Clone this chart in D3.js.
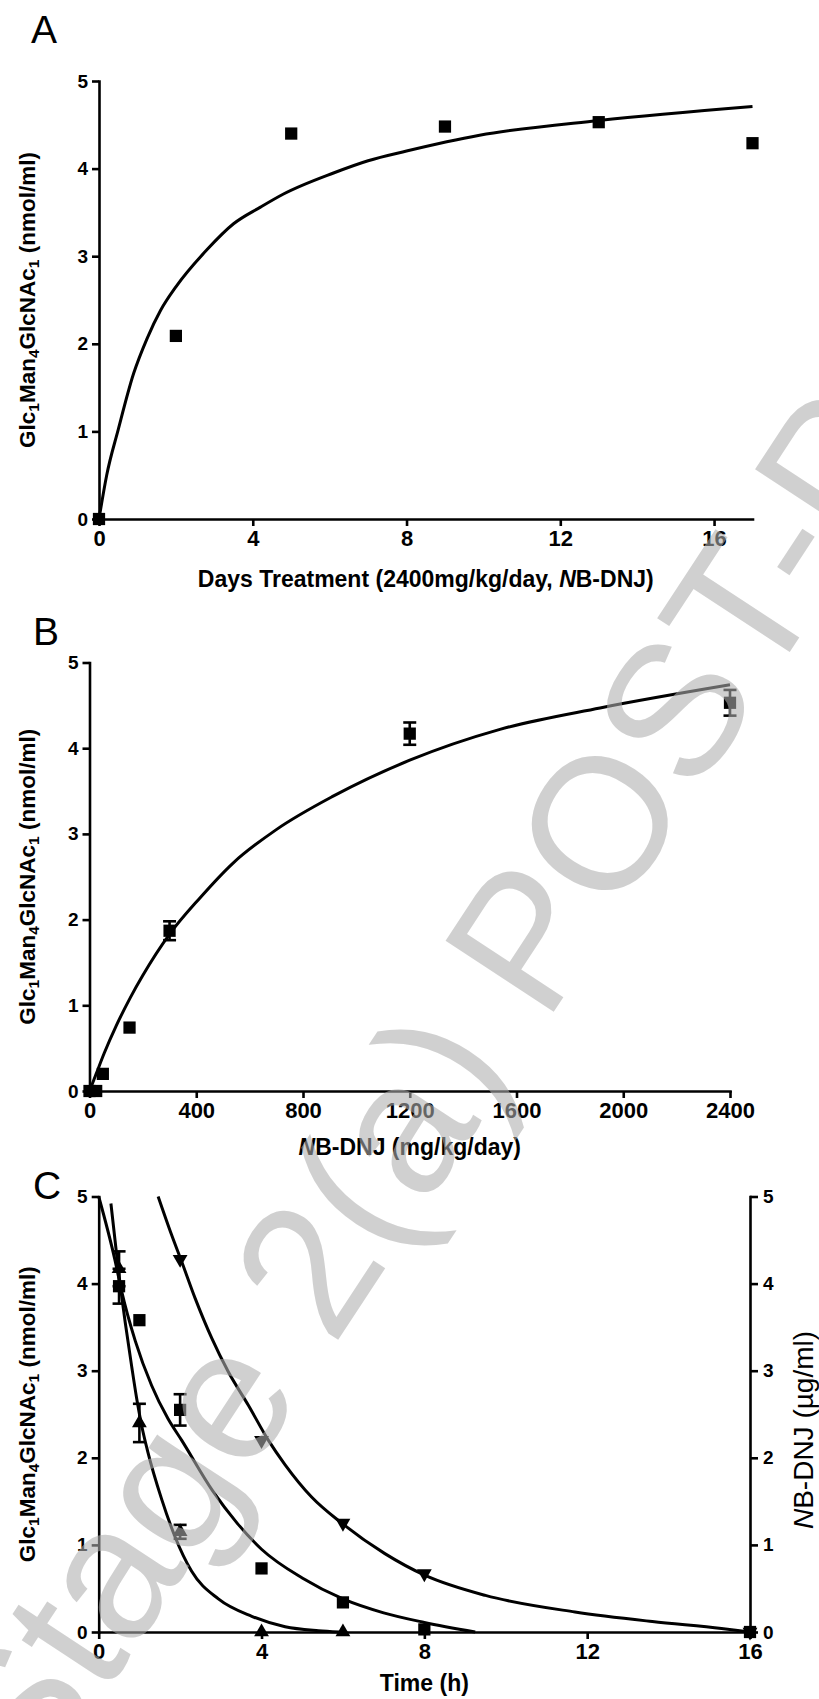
<!DOCTYPE html>
<html>
<head>
<meta charset="utf-8">
<script src="https://cdn.jsdelivr.net/npm/d3@7"></script>
<style>
  body { margin: 0; background: #fff; }
  svg { display: block; }
  text { font-family: "Liberation Sans", Arial, Helvetica, sans-serif; }
</style>
</head>
<body>
<svg id="chart" width="819" height="1699"></svg>
<script>
// ---------------- DATA ----------------
const yTicks = [0, 1, 2, 3, 4, 5];

// Panel A
const aTicks = [0, 4, 8, 12, 16];
const aDays = [0, 2, 5, 9, 13, 17];
const aValues = [0, 2.09, 4.40, 4.48, 4.53, 4.29];
const aFitX = [0, 0.2, 0.5, 0.9, 1.25, 1.6, 2, 2.8, 3.5, 4.2, 4.8, 6.1, 7, 8, 9.9, 13, 17];
const aFitY = [0, 0.5, 1.02, 1.66, 2.06, 2.38, 2.65, 3.07, 3.37, 3.56, 3.71, 3.95, 4.09, 4.2, 4.38, 4.55, 4.71];

// Panel B
const bTicks = [0, 400, 800, 1200, 1600, 2000, 2400];
const bDose = [0, 25, 50, 150, 300, 1200, 2400];
const bValues = [0, 0, 0.2, 0.74, 1.87, 4.17, 4.53];
const bErr = [0, 0, 0, 0, 0.11, 0.13, 0.15];
const bFitX = [0, 25, 55, 100, 153, 200, 300, 413, 538, 700, 913, 1200, 1538, 1913, 2400];
const bFitY = [0, 0.2, 0.44, 0.76, 1.09, 1.35, 1.83, 2.25, 2.66, 3.05, 3.44, 3.86, 4.22, 4.47, 4.74];

// Panel C
const cTicks = [0, 4, 8, 12, 16];
const cSqTime = [0.5, 1, 2, 4, 6, 8, 16];
const cSqValues = [3.97, 3.58, 2.55, 0.73, 0.34, 0.03, 0];
const cSqErr = [0.2, 0, 0.18, 0, 0, 0, 0];
const cUpTime = [0.5, 1, 2, 4, 6];
const cUpValues = [4.17, 2.4, 1.15, 0, 0];
const cUpErr = [0.2, 0.22, 0.08, 0, 0];
const cDownTime = [2, 4, 6, 8, 16];
const cDownValues = [4.28, 2.2, 1.25, 0.67, 0];

const cSqFitX = [0, 0.4, 0.56, 0.9, 1.3, 1.7, 2.04, 2.8, 3.4, 4, 5, 6, 7, 8, 9.25];
const cSqFitY = [5, 4.27, 3.92, 3.34, 2.83, 2.45, 2.2, 1.62, 1.25, 0.95, 0.62, 0.38, 0.22, 0.11, 0];
const cUpFitX = [0.3, 0.48, 0.65, 0.81, 0.93, 1.06, 1.2, 1.55, 1.87, 2.28, 2.94, 3.76, 4.58, 5.4, 5.9];
const cUpFitY = [4.92, 4.17, 3.56, 3.05, 2.69, 2.36, 2.08, 1.52, 1.1, 0.7, 0.38, 0.18, 0.06, 0.015, 0];
const cDownFitX = [1.46, 1.79, 2.04, 2.37, 2.78, 3.18, 3.68, 4.17, 4.58, 5.23, 5.97, 7.03, 8.02, 9.5, 11.7, 13.6, 15.3, 16];
const cDownFitY = [5, 4.56, 4.25, 3.83, 3.37, 2.99, 2.6, 2.2, 1.92, 1.55, 1.25, 0.9, 0.65, 0.42, 0.23, 0.12, 0.04, 0];

// ---------------- DRAWING ----------------
const svg = d3.select("#chart");
const LW = 2.6;

function makePanel(p) {
  const x = d3.scaleLinear().domain(p.xDomain).range([p.left, p.right]);
  const y = d3.scaleLinear().domain([0, 5]).range([p.bottom, p.top]);

  const gx = svg.append("g").attr("transform", `translate(0,${p.bottom})`)
    .call(d3.axisBottom(x).tickValues(p.xTicks).tickSize(7).tickPadding(4)
      .tickSizeOuter(0).tickFormat(d3.format("d")));
  const gy = svg.append("g").attr("transform", `translate(${p.left},0)`)
    .call(d3.axisLeft(y).tickValues(yTicks).tickSize(7).tickPadding(4)
      .tickSizeOuter(0).tickFormat(d3.format("d")));
  [gx, gy].forEach(g => {
    g.select(".domain").attr("stroke", "#000").attr("stroke-width", LW).attr("stroke-linecap", "square");
    g.selectAll(".tick line").attr("stroke", "#000").attr("stroke-width", LW);
    g.selectAll("text").attr("fill", "#000").attr("font-weight", "bold")
      .style("font-family", '"Liberation Sans", Arial, sans-serif');
  });
  gx.selectAll("text").attr("font-size", 22);
  gy.selectAll("text").attr("font-size", 19);

  if (p.right2) {
    const gr = svg.append("g").attr("transform", `translate(${p.right},0)`)
      .call(d3.axisRight(y).tickValues(yTicks).tickSize(8).tickPadding(5)
        .tickSizeOuter(0).tickFormat(d3.format("d")));
    gr.select(".domain").attr("stroke", "#000").attr("stroke-width", LW).attr("stroke-linecap", "square");
    gr.selectAll(".tick line").attr("stroke", "#000").attr("stroke-width", LW);
    gr.selectAll("text").attr("fill", "#000").attr("font-weight", "bold").attr("font-size", 19)
      .style("font-family", '"Liberation Sans", Arial, sans-serif');
  }

  // panel letter
  svg.append("text").attr("x", p.letterX).attr("y", p.letterY)
    .attr("font-size", 39).attr("fill", "#000").text(p.letter);

  // left y label
  const yl = svg.append("text")
    .attr("transform", `translate(35,${(p.top + p.bottom) / 2}) rotate(-90)`)
    .attr("text-anchor", "middle").attr("font-weight", "bold").attr("font-size", 22.5).attr("fill", "#000");
  const parts = [["Glc", false], ["1", true], ["Man", false], ["4", true], ["GlcNAc", false], ["1", true], [" (nmol/ml)", false]];
  let prevSub = false;
  parts.forEach(([t, sub]) => {
    const ts = yl.append("tspan").text(t);
    if (sub) { ts.attr("font-size", 15.5).attr("dy", 4); }
    else if (prevSub) { ts.attr("dy", -4); }
    prevSub = sub;
  });

  return { x, y };
}

function drawFit(s, fx, fy) {
  svg.append("path").datum(d3.zip(fx, fy))
    .attr("d", d3.line().x(d => s.x(d[0])).y(d => s.y(d[1])).curve(d3.curveMonotoneX))
    .attr("fill", "none").attr("stroke", "#000").attr("stroke-width", 3).attr("stroke-linejoin", "round");
}

function drawErr(s, xs, vs, es) {
  xs.forEach((xv, i) => {
    const e = es[i];
    if (!e) return;
    const cx = s.x(xv), y1 = s.y(vs[i] + e), y2 = s.y(vs[i] - e);
    const g = svg.append("g").attr("stroke", "#000").attr("stroke-width", LW);
    g.append("line").attr("x1", cx).attr("x2", cx).attr("y1", y1).attr("y2", y2);
    g.append("line").attr("x1", cx - 6.5).attr("x2", cx + 6.5).attr("y1", y1).attr("y2", y1);
    g.append("line").attr("x1", cx - 6.5).attr("x2", cx + 6.5).attr("y1", y2).attr("y2", y2);
  });
}

function drawMarkers(s, xs, vs, type) {
  const sym = type === "square" ? d3.symbol(d3.symbolSquare, 150) : d3.symbol(d3.symbolTriangle, 95);
  xs.forEach((xv, i) => {
    const rot = type === "down" ? 180 : 0;
    svg.append("path").attr("d", sym())
      .attr("transform", `translate(${s.x(xv)},${s.y(vs[i])}) rotate(${rot})`)
      .attr("fill", "#000");
  });
}

// Panel A
const A = makePanel({ left: 99, right: 752.5, top: 81, bottom: 519, xDomain: [0, 17], xTicks: aTicks,
  letter: "A", letterX: 31, letterY: 43 });
drawFit(A, aFitX, aFitY);
drawMarkers(A, aDays, aValues, "square");
svg.append("text").attr("x", (99 + 752.5) / 2).attr("y", 587).attr("text-anchor", "middle")
  .attr("font-weight", "bold").attr("font-size", 23).attr("fill", "#000")
  .call(t => { t.append("tspan").text("Days Treatment (2400mg/kg/day, ");
               t.append("tspan").attr("font-style", "italic").text("N");
               t.append("tspan").text("B-DNJ)"); });

// Panel B
const B = makePanel({ left: 89.5, right: 730, top: 662.5, bottom: 1091, xDomain: [0, 2400], xTicks: bTicks,
  letter: "B", letterX: 33, letterY: 645 });
drawFit(B, bFitX, bFitY);
drawErr(B, bDose, bValues, bErr);
drawMarkers(B, bDose, bValues, "square");
svg.append("text").attr("x", (89.5 + 730) / 2).attr("y", 1155).attr("text-anchor", "middle")
  .attr("font-weight", "bold").attr("font-size", 23).attr("fill", "#000")
  .call(t => { t.append("tspan").attr("font-style", "italic").text("N");
               t.append("tspan").text("B-DNJ (mg/kg/day)"); });

// Panel C
const C = makePanel({ left: 98.7, right: 750, top: 1196.5, bottom: 1632, xDomain: [0, 16], xTicks: cTicks,
  letter: "C", letterX: 33, letterY: 1199, right2: true });
drawFit(C, cSqFitX, cSqFitY);
drawFit(C, cUpFitX, cUpFitY);
drawFit(C, cDownFitX, cDownFitY);
drawErr(C, cSqTime, cSqValues, cSqErr);
drawErr(C, cUpTime, cUpValues, cUpErr);
drawMarkers(C, cSqTime, cSqValues, "square");
drawMarkers(C, cUpTime, cUpValues, "up");
drawMarkers(C, cDownTime, cDownValues, "down");
svg.append("text").attr("x", (98.7 + 750) / 2).attr("y", 1691).attr("text-anchor", "middle")
  .attr("font-weight", "bold").attr("font-size", 23).attr("fill", "#000").text("Time (h)");
svg.append("text").attr("transform", "translate(813,1430) rotate(-90)").attr("text-anchor", "middle")
  .attr("font-size", 28).attr("fill", "#000")
  .call(t => { t.append("tspan").attr("font-style", "italic").text("N");
               t.append("tspan").text("B-DNJ (\u00B5g/ml)"); });

// Watermark (sits on top of the figure, semi-transparent)
svg.append("text").attr("transform", "translate(34.5,1802) rotate(-56.7)")
  .attr("font-size", 188).attr("fill", "#aeaeae").attr("fill-opacity", 0.58)
  .text("Stage 2(a) POST-PRINT");
</script>
</body>
</html>
